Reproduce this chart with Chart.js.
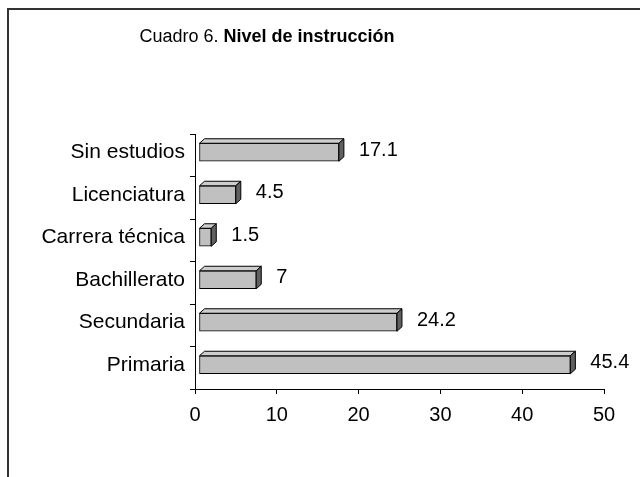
<!DOCTYPE html>
<html>
<head>
<meta charset="utf-8">
<script src="https://cdn.jsdelivr.net/npm/chart.js@4"></script>
<style>
  html, body { margin: 0; padding: 0; background: #fff; }
  canvas { display: block; }
</style>
</head>
<body>
<canvas id="nivelChart" width="640" height="477"></canvas>
<script>
const categories = ["Sin estudios", "Licenciatura", "Carrera técnica", "Bachillerato", "Secundaria", "Primaria"];
const porcentajes = [17.1, 4.5, 1.5, 7, 24.2, 45.4];
const xTicks = [0, 10, 20, 30, 40, 50];

const FONT = "'Liberation Sans', Arial, sans-serif";
const DEPTH_X = 5;
const DEPTH_Y = 4.5;
const SHIFT_X = 4;
const SHIFT_Y = -3;

// white background + frame
const framePlugin = {
  id: "frame",
  beforeDraw: (chart) => {
    const ctx = chart.ctx;
    ctx.save();
    ctx.fillStyle = "#fff";
    ctx.fillRect(0, 0, chart.width, chart.height);
    ctx.strokeStyle = "#333";
    ctx.lineWidth = 2;
    ctx.strokeRect(8, 9, 700, 600);
    ctx.restore();
  },
};

// title with mixed weights
const titlePlugin = {
  id: "mixedTitle",
  afterDraw: (chart) => {
    const ctx = chart.ctx;
    const normal = "Cuadro 6. ";
    const bold = "Nivel de instrucción";
    ctx.save();
    ctx.fillStyle = "#000";
    ctx.textBaseline = "alphabetic";
    ctx.font = "18px " + FONT;
    const w1 = ctx.measureText(normal).width;
    ctx.font = "bold 18px " + FONT;
    const w2 = ctx.measureText(bold).width;
    let x = 267 - (w1 + w2) / 2;
    ctx.textAlign = "left";
    ctx.font = "18px " + FONT;
    ctx.fillText(normal, x, 42);
    ctx.font = "bold 18px " + FONT;
    ctx.fillText(bold, x + w1, 42);
    ctx.restore();
  },
};

// fake 3D: shift the front faces and add top and side faces
const bar3dPlugin = {
  id: "bar3d",
  beforeDatasetsDraw: (chart) => {
    chart.ctx.save();
    chart.ctx.translate(SHIFT_X, SHIFT_Y);
  },
  afterDatasetsDraw: (chart) => {
    const ctx = chart.ctx;
    const meta = chart.getDatasetMeta(0);
    ctx.lineWidth = 1;
    ctx.strokeStyle = "#000";
    ctx.lineJoin = "miter";
    meta.data.forEach((bar) => {
      const left = bar.base;
      const right = bar.x;
      const top = bar.y - bar.height / 2;
      const bottom = bar.y + bar.height / 2;

      ctx.beginPath();
      ctx.moveTo(left, top);
      ctx.lineTo(left + DEPTH_X, top - DEPTH_Y);
      ctx.lineTo(right + DEPTH_X, top - DEPTH_Y);
      ctx.lineTo(right, top);
      ctx.closePath();
      ctx.fillStyle = "#cdcdcd";
      ctx.fill();
      ctx.stroke();

      ctx.beginPath();
      ctx.moveTo(right, top);
      ctx.lineTo(right + DEPTH_X, top - DEPTH_Y);
      ctx.lineTo(right + DEPTH_X, bottom - DEPTH_Y);
      ctx.lineTo(right, bottom);
      ctx.closePath();
      ctx.fillStyle = "#606060";
      ctx.fill();
      ctx.stroke();
    });
    ctx.restore();
  },
};

// value labels to the right of each bar
const valueLabelPlugin = {
  id: "valueLabels",
  afterDraw: (chart) => {
    const ctx = chart.ctx;
    const meta = chart.getDatasetMeta(0);
    ctx.save();
    ctx.fillStyle = "#000";
    ctx.font = "20px " + FONT;
    ctx.textAlign = "left";
    ctx.textBaseline = "middle";
    meta.data.forEach((bar, i) => {
      ctx.fillText(String(porcentajes[i]), bar.x + 24, bar.y - 5);
    });
    ctx.restore();
  },
};

const ctx = document.getElementById("nivelChart").getContext("2d");

window.nivelChart = new Chart(ctx, {
  type: "bar",
  data: {
    labels: categories,
    datasets: [
      {
        label: "Nivel de instrucción",
        data: porcentajes,
        backgroundColor: "#c0c0c0",
        borderColor: "#000",
        borderWidth: 1,
        borderSkipped: false,
        barThickness: 18,
        clip: false,
      },
    ],
  },
  options: {
    indexAxis: "y",
    responsive: false,
    animation: false,
    maintainAspectRatio: false,
    layout: {
      padding: { top: 134, left: 0, right: 36, bottom: 28 },
    },
    scales: {
      x: {
        min: 0,
        max: 50,
        afterBuildTicks: (scale) => {
          scale.ticks = xTicks.map((v) => ({ value: v }));
        },
        afterFit: (scale) => {
          scale.height = 60;
        },
        grid: {
          drawOnChartArea: false,
          drawTicks: true,
          tickLength: 5,
          color: "#000",
        },
        border: { display: true, color: "#000", width: 1 },
        ticks: {
          color: "#000",
          padding: 9,
          maxRotation: 0,
          font: { family: FONT, size: 20 },
        },
      },
      y: {
        afterFit: (scale) => {
          scale.width = 195;
        },
        grid: {
          drawOnChartArea: false,
          drawTicks: true,
          tickLength: 5,
          color: "#000",
        },
        border: { display: true, color: "#000", width: 1 },
        ticks: {
          color: "#000",
          padding: 5,
          labelOffset: -3,
          font: { family: FONT, size: 21 },
        },
      },
    },
    plugins: {
      legend: { display: false },
      title: { display: false },
      tooltip: { enabled: false },
    },
  },
  plugins: [framePlugin, bar3dPlugin, valueLabelPlugin, titlePlugin],
});
</script>
</body>
</html>
